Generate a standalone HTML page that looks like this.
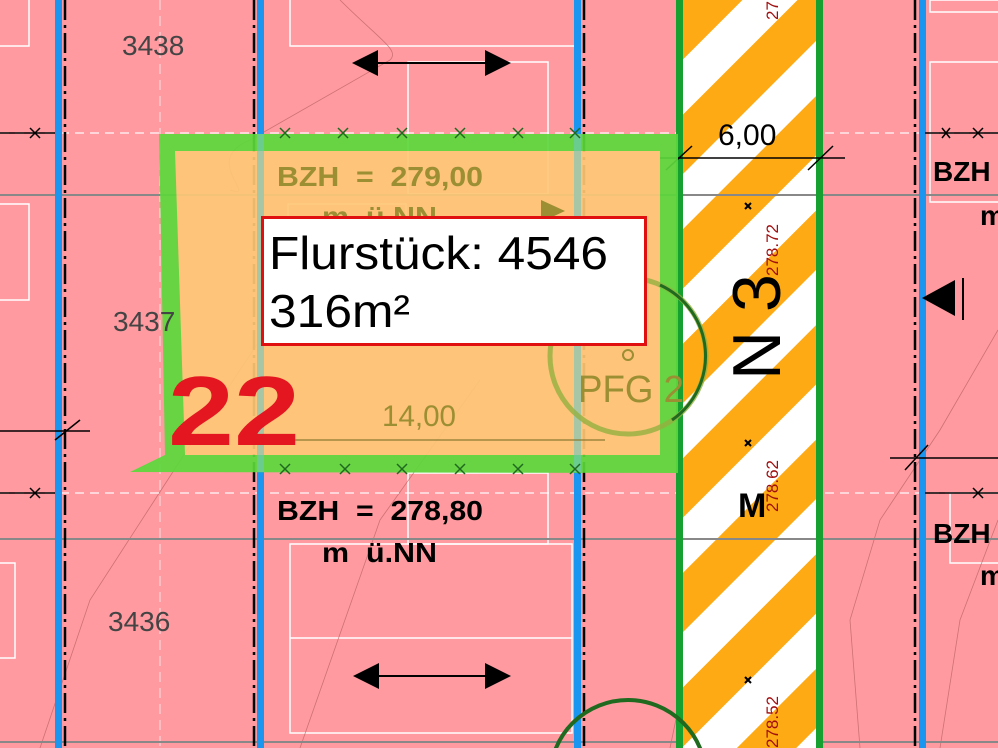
<!DOCTYPE html>
<html><head><meta charset="utf-8"><style>
html,body{margin:0;padding:0;background:#fe9aa0;overflow:hidden;width:998px;height:748px;}
svg{display:block;}
text{font-family:"Liberation Sans",sans-serif;white-space:pre;}
</style></head><body>
<svg width="998" height="748" viewBox="0 0 998 748" xmlns="http://www.w3.org/2000/svg" xml:space="preserve">
<defs>
<pattern id="st" patternUnits="userSpaceOnUse" width="81" height="81" patternTransform="rotate(-45 683 0)">
<rect width="81" height="81" fill="#ffffff"/>
<rect width="81" height="42" fill="#fdaa14"/>
</pattern>
</defs>
<rect width="998" height="748" fill="#fe9aa0"/>
<g fill="none" stroke="#fff" stroke-width="1.5">
<rect x="-5" y="-5" width="34" height="51"/>
<rect x="-5" y="204" width="34" height="96"/>
<rect x="290" y="-5" width="290" height="51"/>
<rect x="288" y="204" width="118" height="60"/>
<rect x="408" y="62" width="140" height="132"/>
<rect x="408" y="473" width="140" height="71"/>
<rect x="290" y="544" width="282" height="189"/>
<line x1="290" y1="638" x2="572" y2="638"/>
<rect x="930" y="62" width="80" height="140"/>
<rect x="950" y="493" width="60" height="70"/>
<rect x="-5" y="563" width="20" height="95"/>
<rect x="930" y="0" width="80" height="12"/>
</g>
<line x1="160" y1="0" x2="160" y2="748" stroke="#fff" stroke-width="1" stroke-dasharray="10 6" opacity="0.7"/>
<g fill="none" stroke="#b86060" stroke-width="0.8" opacity="0.7">
<path d="M340 0 C380 40 400 50 390 60 L250 140 C200 160 260 200 230 190"/>
<path d="M40 748 L90 600 L200 430 L260 340"/>
<path d="M300 748 L380 520 L480 380"/>
<path d="M670 748 L680 700 L720 520 L760 380"/>
<path d="M860 748 L850 620 L880 520 L940 430 L998 330"/>
<path d="M940 748 L960 620 L998 520"/>
</g>
<g stroke="#888" stroke-width="2">
<line x1="0" y1="195" x2="998" y2="195"/>
<line x1="0" y1="539" x2="998" y2="539"/>
<line x1="0" y1="742" x2="998" y2="742"/>
</g>
<g stroke="#fff" stroke-width="1.5" stroke-dasharray="9 6" opacity="0.8">
<line x1="0" y1="133" x2="998" y2="133"/>
<line x1="0" y1="493" x2="998" y2="493"/>
</g>
<g fill="#1a95f0">
<rect x="55" y="0" width="7" height="748"/>
<rect x="257" y="0" width="7" height="748"/>
<rect x="574" y="0" width="7" height="748"/>
<rect x="919" y="0" width="7" height="748"/>
</g>
<g stroke="#000" stroke-width="2.5" stroke-dasharray="20 5 3 5">
<line x1="65" y1="0" x2="65" y2="748"/>
<line x1="254" y1="0" x2="254" y2="748"/>
<line x1="584" y1="0" x2="584" y2="748"/>
<line x1="915" y1="0" x2="915" y2="748"/>
</g>
<rect x="680" y="0" width="140" height="748" fill="url(#st)"/>
<rect x="676" y="0" width="7" height="748" fill="#16a030"/>
<rect x="816" y="0" width="7" height="748" fill="#16a030"/>
<line x1="683" y1="195" x2="816" y2="195" stroke="#888" stroke-width="2"/>
<line x1="683" y1="539" x2="816" y2="539" stroke="#888" stroke-width="2"/>
<g stroke="#000" stroke-width="1.5">
<line x1="0" y1="133" x2="55" y2="133"/>
<line x1="0" y1="493" x2="55" y2="493"/>
<line x1="0" y1="431" x2="90" y2="431"/>
<line x1="55" y1="440" x2="80" y2="420"/>
<line x1="925" y1="133" x2="998" y2="133"/>
<line x1="925" y1="493" x2="998" y2="493"/>
<line x1="890" y1="458" x2="998" y2="458"/>
<line x1="905" y1="470" x2="928" y2="445"/>
<line x1="660" y1="158" x2="845" y2="158"/>
<line x1="666" y1="170" x2="692" y2="146"/>
<line x1="808" y1="170" x2="833" y2="146"/>
</g>
<g stroke="#000" stroke-width="1.5" fill="none">
<path d="M30 128l10 10M40 128l-10 10"/>
<path d="M30 488l10 10M40 488l-10 10"/>
<path d="M973 128l10 10M983 128l-10 10"/>
<path d="M973 488l10 10M983 488l-10 10"/>
<path d="M942 128l8 10M950 128l-8 10"/>
</g>
<g opacity="0.92">
<path d="M159 134 L678 134 L678 473 L130 472 L165 455 Z" fill="#5cd83c"/>
<path d="M175 151 L660 151 L660 455 L185 455 Z" fill="#fdc877"/>
</g>
<rect x="257" y="134" width="7" height="338" fill="#7ac8c0" opacity="0.6"/>
<rect x="574" y="134" width="7" height="338" fill="#7ac8c0" opacity="0.6"/>
<g stroke="#1f6a1f" stroke-width="1.5">
<path d="M280 128l10 10M290 128l-10 10"/><path d="M338 128l10 10M348 128l-10 10"/>
<path d="M397 128l10 10M407 128l-10 10"/><path d="M455 128l10 10M465 128l-10 10"/>
<path d="M513 128l10 10M523 128l-10 10"/><path d="M570 128l10 10M580 128l-10 10"/>
<path d="M280 464l10 10M290 464l-10 10"/><path d="M340 464l10 10M350 464l-10 10"/>
<path d="M397 464l10 10M407 464l-10 10"/><path d="M455 464l10 10M465 464l-10 10"/>
<path d="M513 464l10 10M523 464l-10 10"/><path d="M570 464l10 10M580 464l-10 10"/>
</g>
<line x1="250" y1="440" x2="605" y2="440" stroke="#8a7a30" stroke-width="1.2"/>
<g fill="#9c8e32" font-weight="bold" font-size="28">
<text x="277" y="186" textLength="206" lengthAdjust="spacingAndGlyphs">BZH  =  279,00</text>
<text x="322" y="226" textLength="115" lengthAdjust="spacingAndGlyphs">m  ü.NN</text>
</g>
<text x="382" y="426" font-size="30" fill="#9c8e32" textLength="74" lengthAdjust="spacingAndGlyphs">14,00</text>
<path d="M541 200 L541 222 L565 211 Z" fill="#9c8e32"/>
<circle cx="628" cy="356" r="78" fill="none" stroke="#93b040" stroke-width="5" opacity="0.8"/>
<path d="M660 285 A78 78 0 0 1 672 420" fill="none" stroke="#1f6a1f" stroke-width="3"/>
<circle cx="628" cy="355" r="5" fill="none" stroke="#9c8e32" stroke-width="2"/>
<text x="578" y="402" font-size="38" fill="#9c8e32" textLength="106" lengthAdjust="spacingAndGlyphs">PFG 2</text>
<circle cx="628" cy="778" r="78" fill="none" stroke="#1f6a1f" stroke-width="4"/>
<rect x="262.5" y="217.5" width="383" height="127" fill="#fff" stroke="#e01010" stroke-width="3"/>
<text x="269" y="269" font-size="46" fill="#000" textLength="339" lengthAdjust="spacingAndGlyphs">Flurstück: 4546</text>
<text x="269" y="327" font-size="46" fill="#000" textLength="141" lengthAdjust="spacingAndGlyphs">316m²</text>
<text x="168" y="445" font-size="98" font-weight="bold" fill="#e41620" textLength="132" lengthAdjust="spacingAndGlyphs">22</text>
<g fill="#444" font-size="28">
<text x="122" y="55">3438</text>
<text x="113" y="331">3437</text>
<text x="108" y="631">3436</text>
</g>
<g fill="#000" font-weight="bold" font-size="28">
<text x="277" y="520" textLength="206" lengthAdjust="spacingAndGlyphs">BZH  =  278,80</text>
<text x="322" y="562" textLength="115" lengthAdjust="spacingAndGlyphs">m  ü.NN</text>
<text x="933" y="181">BZH</text>
<text x="980" y="225">m</text>
<text x="933" y="543">BZH</text>
<text x="980" y="585">m</text>
<text x="738" y="517" font-size="34">M</text>
</g>
<text x="718" y="145" font-size="30" fill="#000">6,00</text>
<text transform="translate(780 380) rotate(-90)" font-size="68" fill="#000">N 3</text>
<g fill="#a01010" font-size="17">
<text transform="translate(778 276) rotate(-90)">278.72</text>
<text transform="translate(778 512) rotate(-90)">278.62</text>
<text transform="translate(778 748) rotate(-90)">278.52</text>
<text transform="translate(778 20) rotate(-90)">27</text>
</g>
<g stroke="#000" stroke-width="2">
<path d="M745 203l6 6M751 203l-6 6"/><path d="M745 440l6 6M751 440l-6 6"/><path d="M745 677l6 6M751 677l-6 6"/>
</g>
<g fill="#000">
<line x1="370" y1="63" x2="492" y2="63" stroke="#000" stroke-width="2"/>
<path d="M352 63 L378 50 L378 76 Z"/><path d="M511 63 L485 50 L485 76 Z"/>
<line x1="370" y1="676" x2="492" y2="676" stroke="#000" stroke-width="2"/>
<path d="M353 676 L379 663 L379 689 Z"/><path d="M511 676 L485 663 L485 689 Z"/>
<path d="M922 298 L955 280 L955 316 Z"/>
<line x1="963" y1="278" x2="963" y2="320" stroke="#000" stroke-width="2"/>
</g>
</svg>
</body></html>
